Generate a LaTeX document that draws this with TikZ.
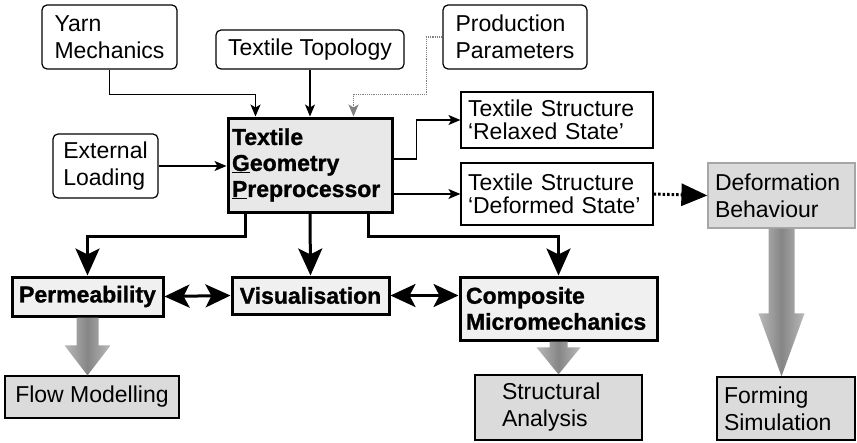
\documentclass[tikz,border=0pt]{standalone}
\usepackage{fontspec}
\setmainfont{Liberation Sans}
\usetikzlibrary{arrows.meta,calc}

\newcommand{\diagfont}{\fontsize{23}{27}\selectfont}
\newcommand{\fatarrow}[5]{%
  \shade[fatfill] let \p1=(#1), \p2=(#2) in
    (\x1-#3pt,\y1) -- (\x1+#3pt,\y1) -- (\x1+#3pt,\y2+#5pt)
    -- (\x1+#4pt,\y2+#5pt) -- (\x1,\y2) -- (\x1-#4pt,\y2+#5pt)
    -- (\x1-#3pt,\y2+#5pt) -- cycle;}

\tikzset{
  inbox/.style={draw, rounded corners=5pt, line width=1.2pt, inner sep=0pt, align=left, font=\diagfont},
  outbox/.style={draw, line width=1.2pt, inner sep=0pt, align=left, font=\fontsize{23}{23}\selectfont},
  keybox/.style={draw, line width=3pt, fill=gray!18, inner sep=0pt, align=left,
    font=\fontsize{23}{26}\selectfont\bfseries\addfontfeature{FakeBold=1.2}},
  resbox/.style={draw, line width=1.2pt, fill=gray!28, inner sep=0pt, align=left, font=\diagfont},
  lightarr/.style={line width=1.2pt, -{Stealth[length=12pt,width=10pt,inset=3pt]}},
  bigarr/.style={line width=3pt, -{Stealth[length=27pt,width=24pt,inset=6pt]}},
  duoarr/.style={line width=3pt, {Stealth[length=25pt,width=23pt,inset=6pt]}-{Stealth[length=25pt,width=23pt,inset=6pt]}},
  fatfill/.style={left color=gray!55, right color=gray!55, middle color=gray!95}
}

\begin{document}
\begin{tikzpicture}[x=1pt, y=-1pt]
        \useasboundingbox (0,0) rectangle (857,442);
        % inputs
        \node[inbox, minimum width=135pt, minimum height=64pt] (yarn) at (109.5,37) {Yarn\\Mechanics};
        \node[inbox, minimum width=188pt, minimum height=39pt] (topo) at (310,49.5) {Textile Topology};
        \node[inbox, minimum width=144pt, minimum height=64pt] (prod) at (515,37) {Production\\Parameters};
        \node[inbox, minimum width=105pt, minimum height=64pt] (ext) at (105.5,166) {External\\Loading};
        \node[keybox, minimum width=164pt, minimum height=94pt, text width=156pt] (pre) at (310,165)
            {Textile\\\underline{G}eometry\\\underline{P}reprocessor};
        % outputs
        \node[outbox, minimum width=192pt, minimum height=56pt, text width=178pt] (relaxed) at (557,120) {Textile Structure\\‘Relaxed State’};
        \node[outbox, minimum width=192pt, minimum height=62pt, text width=178pt] (deformed) at (557,194) {Textile Structure\\‘Deformed State’};
        \node[resbox, draw=gray!70, minimum width=147pt, minimum height=65pt, text width=133pt] (deform) at (781.5,195.5) {Deformation\\Behaviour};
        \node[keybox, fill=gray!12, minimum width=151pt, minimum height=39pt] (perm) at (87.5,296.5) {Permeability};
        \node[keybox, fill=gray!12, minimum width=157pt, minimum height=37pt] (vis) at (310.5,295.5) {Visualisation};
        \node[keybox, fill=gray!12, minimum width=197pt, minimum height=63pt, text width=185pt] (comp) at (558.5,308.5) {Composite\\Micromechanics};
        \node[resbox, minimum width=174pt, minimum height=42pt] (flow) at (92,397) {Flow Modelling};
        \node[resbox, minimum width=167pt, minimum height=65pt, text width=113pt] (struct) at (558.5,407.5) {Structural\\Analysis};
        \node[resbox, minimum width=138pt, minimum height=63pt, text width=124pt] (form) at (786,408.5) {Forming\\Simulation};
        % thin connectors
        \draw[lightarr] (yarn.south) |- ([xshift=29pt,yshift=22pt]pre.north west) -- ([xshift=29pt]pre.north west);
        \draw[lightarr] (topo.south) -- (topo.south |- pre.north);
        \draw[lightarr, densely dotted, gray] (prod.west) -- ++(-16,0) |- ([xshift=-40pt,yshift=22pt]pre.north east) -- ([xshift=-40pt]pre.north east);
        \draw[lightarr] (ext.east) -- (ext.east -| pre.west);
        \draw[lightarr] ([yshift=6pt]pre.east) -- ++(23,0) |- (relaxed.west);
        \draw[lightarr] (deformed.west -| pre.east) -- (deformed.west);
        \draw[line width=3pt, dash pattern=on 2.5pt off 2pt, -{Triangle[length=26pt,width=22pt]}] (deformed.east) -- (deform.west);
        % thick connectors
        \draw[bigarr] ([xshift=19pt]pre.south west) -- ++(0,23) -| (perm.north);
        \draw[bigarr] (pre.south) -- (vis.north);
        \draw[bigarr] ([xshift=-25pt]pre.south east) -- ++(0,23) -| (comp.north);
        \draw[duoarr] (perm.east) -- (vis.west);
        \draw[duoarr] (vis.east) -- (vis.east -| comp.west);
        % shaded arrows
        \fatarrow{perm.south}{flow.north}{11}{23}{30}
        \fatarrow{comp.south}{struct.north}{9}{22}{27}
        \fatarrow{deform.south}{form.north}{13}{23}{63}
    \end{tikzpicture}
\end{document}
